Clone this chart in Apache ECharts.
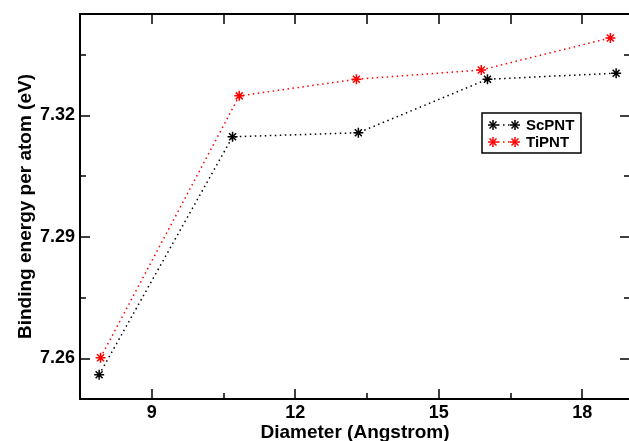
<!DOCTYPE html>
<html>
<head>
<meta charset="utf-8">
<script src="https://cdn.jsdelivr.net/npm/echarts@6/dist/echarts.min.js"></script>
<style>html,body{margin:0;padding:0;background:#fff;}#c{width:629px;height:441px;}</style>
</head>
<body>
<div id="c"></div>
<script>
// ---- data ----
const seriesNames = ['ScPNT', 'TiPNT'];
const scDiameter = [7.90, 10.69, 13.32, 16.02, 18.71];
const scEnergy = [7.2560, 7.3147, 7.3157, 7.3289, 7.3304];
const tiDiameter = [7.93, 10.83, 13.28, 15.89, 18.59];
const tiEnergy = [7.2602, 7.3248, 7.3289, 7.3312, 7.3391];
const xMajorTicks = [9, 12, 15, 18];
const xMinorTicks = [10.5, 13.5, 16.5];
const yMajorTicks = [7.26, 7.29, 7.32];
const yMinorTicks = [7.275, 7.305, 7.335];

const FONT = '"Liberation Sans", Arial, Helvetica, sans-serif';
const STAR = 'path://M0 5L10 5M5 0L5 10M1.5 1.5L8.5 8.5M1.5 8.5L8.5 1.5';
const colors = ['#000000', '#ff0000'];

const X = {min: 7.5, max: 19};
const Y = {min: 7.25, max: 7.345};
const gridBox = {left: 80, top: 14, right: -1, bottom: 42, outerBoundsMode: 'none', containLabel: false};

function xAxisDef(grid, pos, ticks, len, labels, line) {
  return {
    type: 'value', gridIndex: grid, position: pos, min: X.min, max: X.max,
    splitLine: {show: false},
    axisLine: {show: line, lineStyle: {color: '#000', width: 2}},
    axisTick: {show: true, inside: true, length: len, customValues: ticks, lineStyle: {color: '#000', width: 1.5}},
    axisLabel: labels ? {show: true, customValues: ticks, margin: 5, color: '#000', fontFamily: FONT, fontWeight: 'bold', fontSize: 18, formatter: v => String(v)} : {show: false}
  };
}
function yAxisDef(grid, pos, ticks, len, labels, line) {
  return {
    type: 'value', gridIndex: grid, position: pos, min: Y.min, max: Y.max,
    splitLine: {show: false},
    axisLine: {show: line, lineStyle: {color: '#000', width: 2}},
    axisTick: {show: true, inside: true, length: len, customValues: ticks, lineStyle: {color: '#000', width: 1.5}},
    axisLabel: labels ? {show: true, customValues: ticks, margin: 5, color: '#000', fontFamily: FONT, fontWeight: 'bold', fontSize: 18, formatter: v => v.toFixed(2)} : {show: false}
  };
}

const xa0 = xAxisDef(0, 'bottom', xMajorTicks, 10, true, true);
xa0.name = 'Diameter (Angstrom)';
xa0.nameLocation = 'middle';
xa0.nameGap = 24;
xa0.nameMoveOverlap = false;
xa0.nameTextStyle = {color: '#000', fontFamily: FONT, fontWeight: 'bold', fontSize: 19};
const ya0 = yAxisDef(0, 'left', yMajorTicks, 10, true, true);
ya0.name = 'Binding energy per atom (eV)';
ya0.nameLocation = 'middle';
ya0.nameGap = 45;
ya0.nameMoveOverlap = false;
ya0.nameTextStyle = {color: '#000', fontFamily: FONT, fontWeight: 'bold', fontSize: 19};

function pairs(xs, ys) { return xs.map((x, i) => [x, ys[i]]); }

function mkSeries(name, xs, ys, color) {
  return {
    name: name, type: 'line', xAxisIndex: 0, yAxisIndex: 0,
    data: pairs(xs, ys),
    symbol: STAR, symbolSize: 10,
    itemStyle: {color: 'transparent', borderColor: color, borderWidth: 1.5},
    lineStyle: {color: color, width: 1.5, type: [1.5, 3.5]},
    emphasis: {disabled: true}, animation: false, z: 5
  };
}

// legend drawn as graphic
const lgX = 482, lgY = 113, lgW = 99, lgH = 40;
const legendEls = [{
  type: 'rect', shape: {x: lgX, y: lgY, width: lgW, height: lgH},
  style: {fill: '#fff', stroke: '#000', lineWidth: 1.5}, z: 10
}];
function starLines(cx, cy, r, color) {
  const d = r * 0.7;
  return [[-r, 0, r, 0], [0, -r, 0, r], [-d, -d, d, d], [-d, d, d, -d]].map(s => ({
    type: 'line', shape: {x1: cx + s[0], y1: cy + s[1], x2: cx + s[2], y2: cy + s[3]},
    style: {stroke: color, lineWidth: 1.5}, z: 12
  }));
}
seriesNames.forEach((n, i) => {
  const cy = 125 + i * 17;
  legendEls.push({type: 'line', shape: {x1: 493, y1: cy, x2: 515, y2: cy}, style: {stroke: colors[i], lineWidth: 1.5, lineDash: [1.5, 3.5]}, z: 11});
  [493, 515].forEach(cx => starLines(cx, cy, 5, colors[i]).forEach(e => legendEls.push(e)));
  legendEls.push({type: 'text', style: {x: 526, y: cy + 0.5, text: n, fill: '#000', font: 'bold 15px ' + FONT, verticalAlign: 'middle', textAlign: 'left'}, z: 12});
});

const option = {
  animation: false,
  backgroundColor: '#fff',
  grid: [Object.assign({}, gridBox), Object.assign({}, gridBox)],
  xAxis: [
    xa0,
    xAxisDef(0, 'top', xMajorTicks.concat(xMinorTicks), 10, false, true),
    xAxisDef(1, 'bottom', xMinorTicks, 6, false, false)
  ],
  yAxis: [
    ya0,
    yAxisDef(0, 'right', yMajorTicks, 10, false, true),
    yAxisDef(1, 'left', yMinorTicks, 6, false, false),
    yAxisDef(1, 'right', yMinorTicks, 6, false, false)
  ],
  series: [
    mkSeries(seriesNames[0], scDiameter, scEnergy, colors[0]),
    mkSeries(seriesNames[1], tiDiameter, tiEnergy, colors[1])
  ],
  graphic: legendEls
};

const chart = echarts.init(document.getElementById('c'), null, {renderer: 'canvas'});
chart.setOption(option);
</script>
</body>
</html>
